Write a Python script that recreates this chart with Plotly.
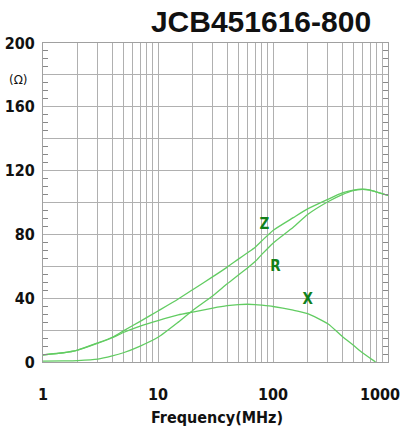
import math
import plotly.graph_objects as go

# ---- data ----
freq_mhz = [1, 1.5, 2, 3, 4, 5, 7, 10, 15, 20, 30, 40, 50, 60, 70, 80, 100,
            150, 200, 300, 400, 500, 600, 700, 800, 1000]
z_ohm = [4.5, 5.8, 7.5, 12.0, 15.5, 19.5, 25.5, 32.0, 39.5, 45.3, 53.5, 59.5,
         64.5, 68.5, 72.0, 76.0, 82.5, 90.5, 96.0, 102.0, 106.0, 107.8, 108.3,
         107.8, 106.5, 104.5]
r_ohm = [0.6, 0.7, 0.9, 1.8, 3.8, 5.8, 10.0, 15.5, 25.0, 32.3, 41.5, 49.0,
         54.5, 59.0, 63.0, 67.5, 74.5, 84.5, 92.5, 100.5, 105.0, 107.5, 108.2,
         107.8, 106.5, 104.5]
x_freq = [1, 1.5, 2, 3, 4, 5, 7, 10, 15, 20, 30, 40, 50, 60, 70, 80, 100,
          150, 200, 300, 400, 500, 600, 700, 780]
x_ohm = [4.4, 5.7, 7.4, 11.8, 15.2, 18.5, 22.5, 26.0, 29.5, 31.3, 33.8, 35.3,
         36.0, 36.2, 36.0, 35.6, 34.8, 32.5, 30.3, 24.0, 16.0, 10.5, 5.8, 2.3, 0.0]

curve_labels = ["Z", "R", "X"]
label_freq = [84, 105, 200]
label_ohm = [86, 59.5, 39]

x_tick_vals = [1, 10, 100, 1000]
x_tick_text = ["1", "10", "100", "1000"]
x_grid_vals = [m * 10 ** d for d in range(3) for m in range(1, 10)] + [1000]
y_hidden_labels = ["20", "60", "100", "140", "180"]

title_text = "JCB451616-800"
unit_text = "(Ω)"
x_title = "Frequency(MHz)"

LINE = "#62cc62"
LABEL = "#11801a"
GRID = "#b0b0b0"
AXFONT = "Liberation Sans Narrow, DejaVu Sans Condensed, Roboto, sans-serif"

fig = go.Figure()
for xs, ys, name in [(freq_mhz, z_ohm, "Z"), (freq_mhz, r_ohm, "R"), (x_freq, x_ohm, "X")]:
    fig.add_trace(go.Scatter(x=xs, y=ys, mode="lines", name=name,
                             line=dict(color=LINE, width=1.3, shape="spline", smoothing=0.6),
                             showlegend=False, hoverinfo="x+y+name"))

fig.add_trace(go.Scatter(x=label_freq, y=label_ohm, mode="text", text=curve_labels,
                         textfont=dict(family=AXFONT, size=15, color=LABEL, weight="bold"),
                         showlegend=False, hoverinfo="skip"))

annotations = []
for v, t in zip(x_tick_vals, x_tick_text):
    shift = -8 if v == 1000 else 0
    annotations.append(dict(x=math.log10(v), xref="x", y=0, yref="paper", text=t,
                            showarrow=False, yanchor="top", yshift=-21, xshift=shift,
                            font=dict(family=AXFONT, size=16, color="#111", weight="bold")))
annotations.append(dict(x=0.505, xref="paper", y=0, yref="paper", text=x_title,
                        showarrow=False, yanchor="top", yshift=-44,
                        font=dict(family=AXFONT, size=16, color="#111", weight="bold")))
annotations.append(dict(x=-0.072, xref="paper", xanchor="center", y=180, yref="y",
                        text=unit_text, showarrow=False, yshift=-5,
                        font=dict(family="DejaVu Sans", size=12, color="#111")))

fig.update_layout(
    width=402, height=436,
    margin=dict(l=43, r=14, t=43, b=74, autoexpand=False),
    paper_bgcolor="white", plot_bgcolor="white",
    title=dict(text=title_text, x=261 / 402, xanchor="center", y=1 - 21 / 436,
               yanchor="middle",
               font=dict(family="Liberation Sans, Arial, sans-serif", size=30, color="#111",
                         weight="bold")),
    annotations=annotations,
    xaxis=dict(type="log", range=[0, 3], tickvals=x_grid_vals, showticklabels=False,
               ticks="", showgrid=True, gridcolor=GRID, gridwidth=1, automargin=False,
               showline=True, linecolor="#a0a0a0", linewidth=1, mirror=True, zeroline=False),
    yaxis=dict(range=[0, 200], tickmode="linear", tick0=0, dtick=20,
               labelalias={k: "" for k in y_hidden_labels},
               ticks="inside", ticklen=0, tickcolor="#888888",
               showgrid=True, gridcolor=GRID, gridwidth=1, automargin=False,
               showline=True, linecolor="#a0a0a0", linewidth=1, mirror="ticks",
               zeroline=False, ticklabelstandoff=4,
               tickfont=dict(family=AXFONT, size=16, color="#111", weight="bold"),
               minor=dict(dtick=5, ticks="inside", ticklen=5, tickcolor="#888888",
                          showgrid=False)),
)

fig.write_html("out.html", config={"displayModeBar": False},
               post_script="document.body.style.margin='0';document.body.style.padding='0';")
